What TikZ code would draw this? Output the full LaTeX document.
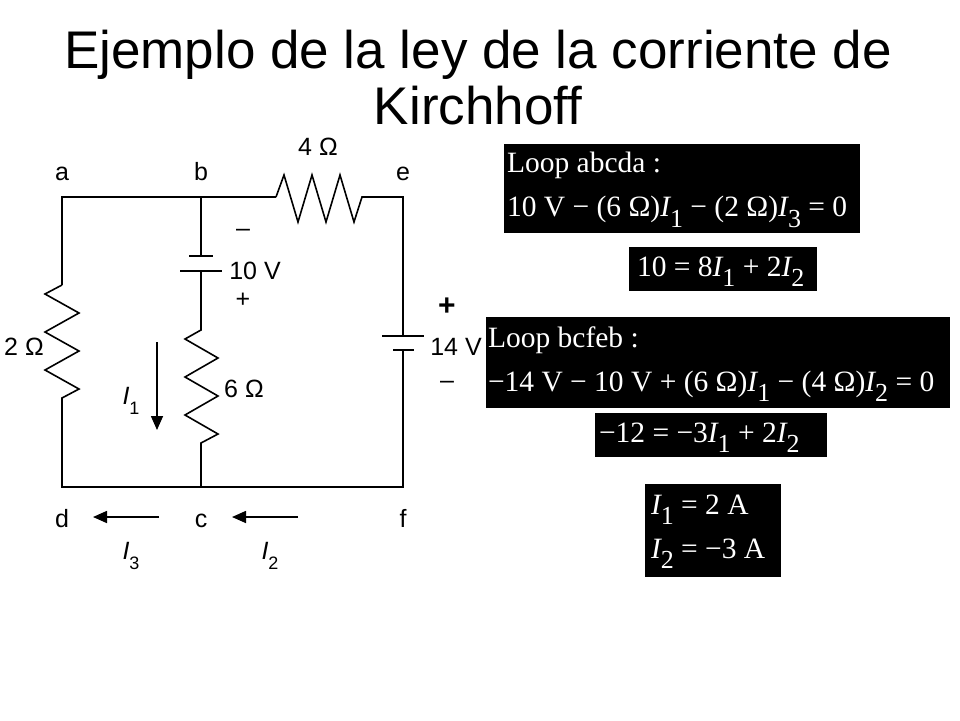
\documentclass[tikz,border=0pt]{standalone}
\usepackage{fontspec}
\setmainfont{Liberation Sans}
\newfontfamily\eqfont{Liberation Serif}
\usetikzlibrary{arrows.meta}
\newcommand{\Isb}[1]{{\itshape I}\raisebox{-0.35em}{\fontsize{26}{26}\selectfont #1}}
\newcommand{\Ilab}[1]{{\itshape I}\raisebox{-0.4em}{\fontsize{18}{18}\selectfont #1}}
\tikzset{
 wire/.style={line width=1.6pt},
 lbl/.style={font=\fontsize{25}{27}\selectfont, inner sep=0pt, anchor=base},
 boxbg/.style={fill=black, inner sep=0pt},
 eqtext/.style={text=white, font=\eqfont\fontsize{29.5}{44}\selectfont, inner sep=0pt, align=left, anchor=west},
 cur/.style={line width=1.6pt, -{Triangle[length=14pt,width=12pt]}}
}
\begin{document}
\begin{tikzpicture}[x=1pt,y=-1pt]
\useasboundingbox (0,0) rectangle (960,720);
\node[font=\fontsize{53}{56}\selectfont, align=center] (title) at (478,78) {Ejemplo de la ley de la corriente de\\Kirchhoff};
% circuit
\draw[wire] (62,285) -- (62,197) -- (276,197);
\draw[wire] (276,197) -- (284,175) -- (298,222) -- (312,175) -- (326,222) -- (340,175) -- (354,222) -- (362,197) -- (403,197) -- (403,336);
\draw[wire] (403,350) -- (403,487) -- (62,487) -- (62,402);
\draw[wire] (62,285) -- (45,294) -- (79,313) -- (45,332) -- (79,351) -- (45,370) -- (79,389) -- (62,398) -- (62,402);
\draw[wire] (201,197) -- (201,256);
\draw[wire] (189,256) -- (213,256);
\draw[wire] (180,271) -- (222,271);
\draw[wire] (201,271) -- (201,330) -- (185,339) -- (218,358) -- (185,377) -- (218,396) -- (185,415) -- (218,434) -- (201,443) -- (201,487);
\draw[wire] (382,336) -- (424,336);
\draw[wire] (393,350) -- (414,350);
% labels
\node[lbl] (la) at (62,180) {a};
\node[lbl] (lb) at (201,180) {b};
\node[lbl] (le) at (403,180) {e};
\node[lbl] (r4) at (318,155) {4 Ω};
\node[lbl] (m10) at (243,236) {–};
\node[lbl] (v10) at (255,279) {10 V};
\node[lbl] (p10) at (243,307) {+};
\node[lbl] (r2) at (24,355) {2 Ω};
\node[lbl] (r6) at (244,397) {6 Ω};
\node[lbl, font=\fontsize{30}{32}\selectfont\bfseries] (p14) at (447,315) {+};
\node[lbl] (v14) at (456,355) {14 V};
\node[lbl] (m14) at (447,388) {–};
\node[lbl] (ld) at (62,527) {d};
\node[lbl] (lc) at (201,527) {c};
\node[lbl] (lf) at (403,527) {f};
\node[lbl] (i1) at (131,404) {\Ilab{1}};
\node[lbl] (i3) at (131,559) {\Ilab{3}};
\node[lbl] (i2) at (270,559) {\Ilab{2}};
\coordinate (a1s) at (157,342); \coordinate (a1e) at (157,430);
\coordinate (a3s) at (159,517); \coordinate (a3e) at (93,517);
\coordinate (a2s) at (298,517); \coordinate (a2e) at (232,517);
\draw[cur] (a1s) -- (a1e);
\draw[cur] (a3s) -- (a3e);
\draw[cur] (a2s) -- (a2e);
% equations
\node[boxbg, minimum width=356pt, minimum height=89pt] (e1) at (682,188) {};
\node[eqtext, xshift=3pt, yshift=-2pt] (t1) at (e1.west) {Loop abcda :\\10 V − (6 Ω)\Isb{1} − (2 Ω)\Isb{3} = 0};
\node[boxbg, minimum width=188pt, minimum height=44pt] (e2) at (723,269) {};
\node[eqtext, xshift=8pt, yshift=-3pt] (t2) at (e2.west) {10 = 8\Isb{1} + 2\Isb{2}};
\node[boxbg, minimum width=464pt, minimum height=91pt] (e3) at (718,362) {};
\node[eqtext, xshift=2pt, yshift=-2pt] (t3) at (e3.west) {Loop bcfeb :\\−14 V − 10 V + (6 Ω)\Isb{1} − (4 Ω)\Isb{2} = 0};
\node[boxbg, minimum width=232pt, minimum height=44pt] (e4) at (711,435) {};
\node[eqtext, xshift=4pt, yshift=-3pt] (t4) at (e4.west) {−12 = −3\Isb{1} + 2\Isb{2}};
\node[boxbg, minimum width=136pt, minimum height=93pt] (e5) at (713,530) {};
\node[eqtext, xshift=6pt, yshift=-2pt] (t5) at (e5.west) {\Isb{1} = 2 A\\\Isb{2} = −3 A};
\end{tikzpicture}
\end{document}
